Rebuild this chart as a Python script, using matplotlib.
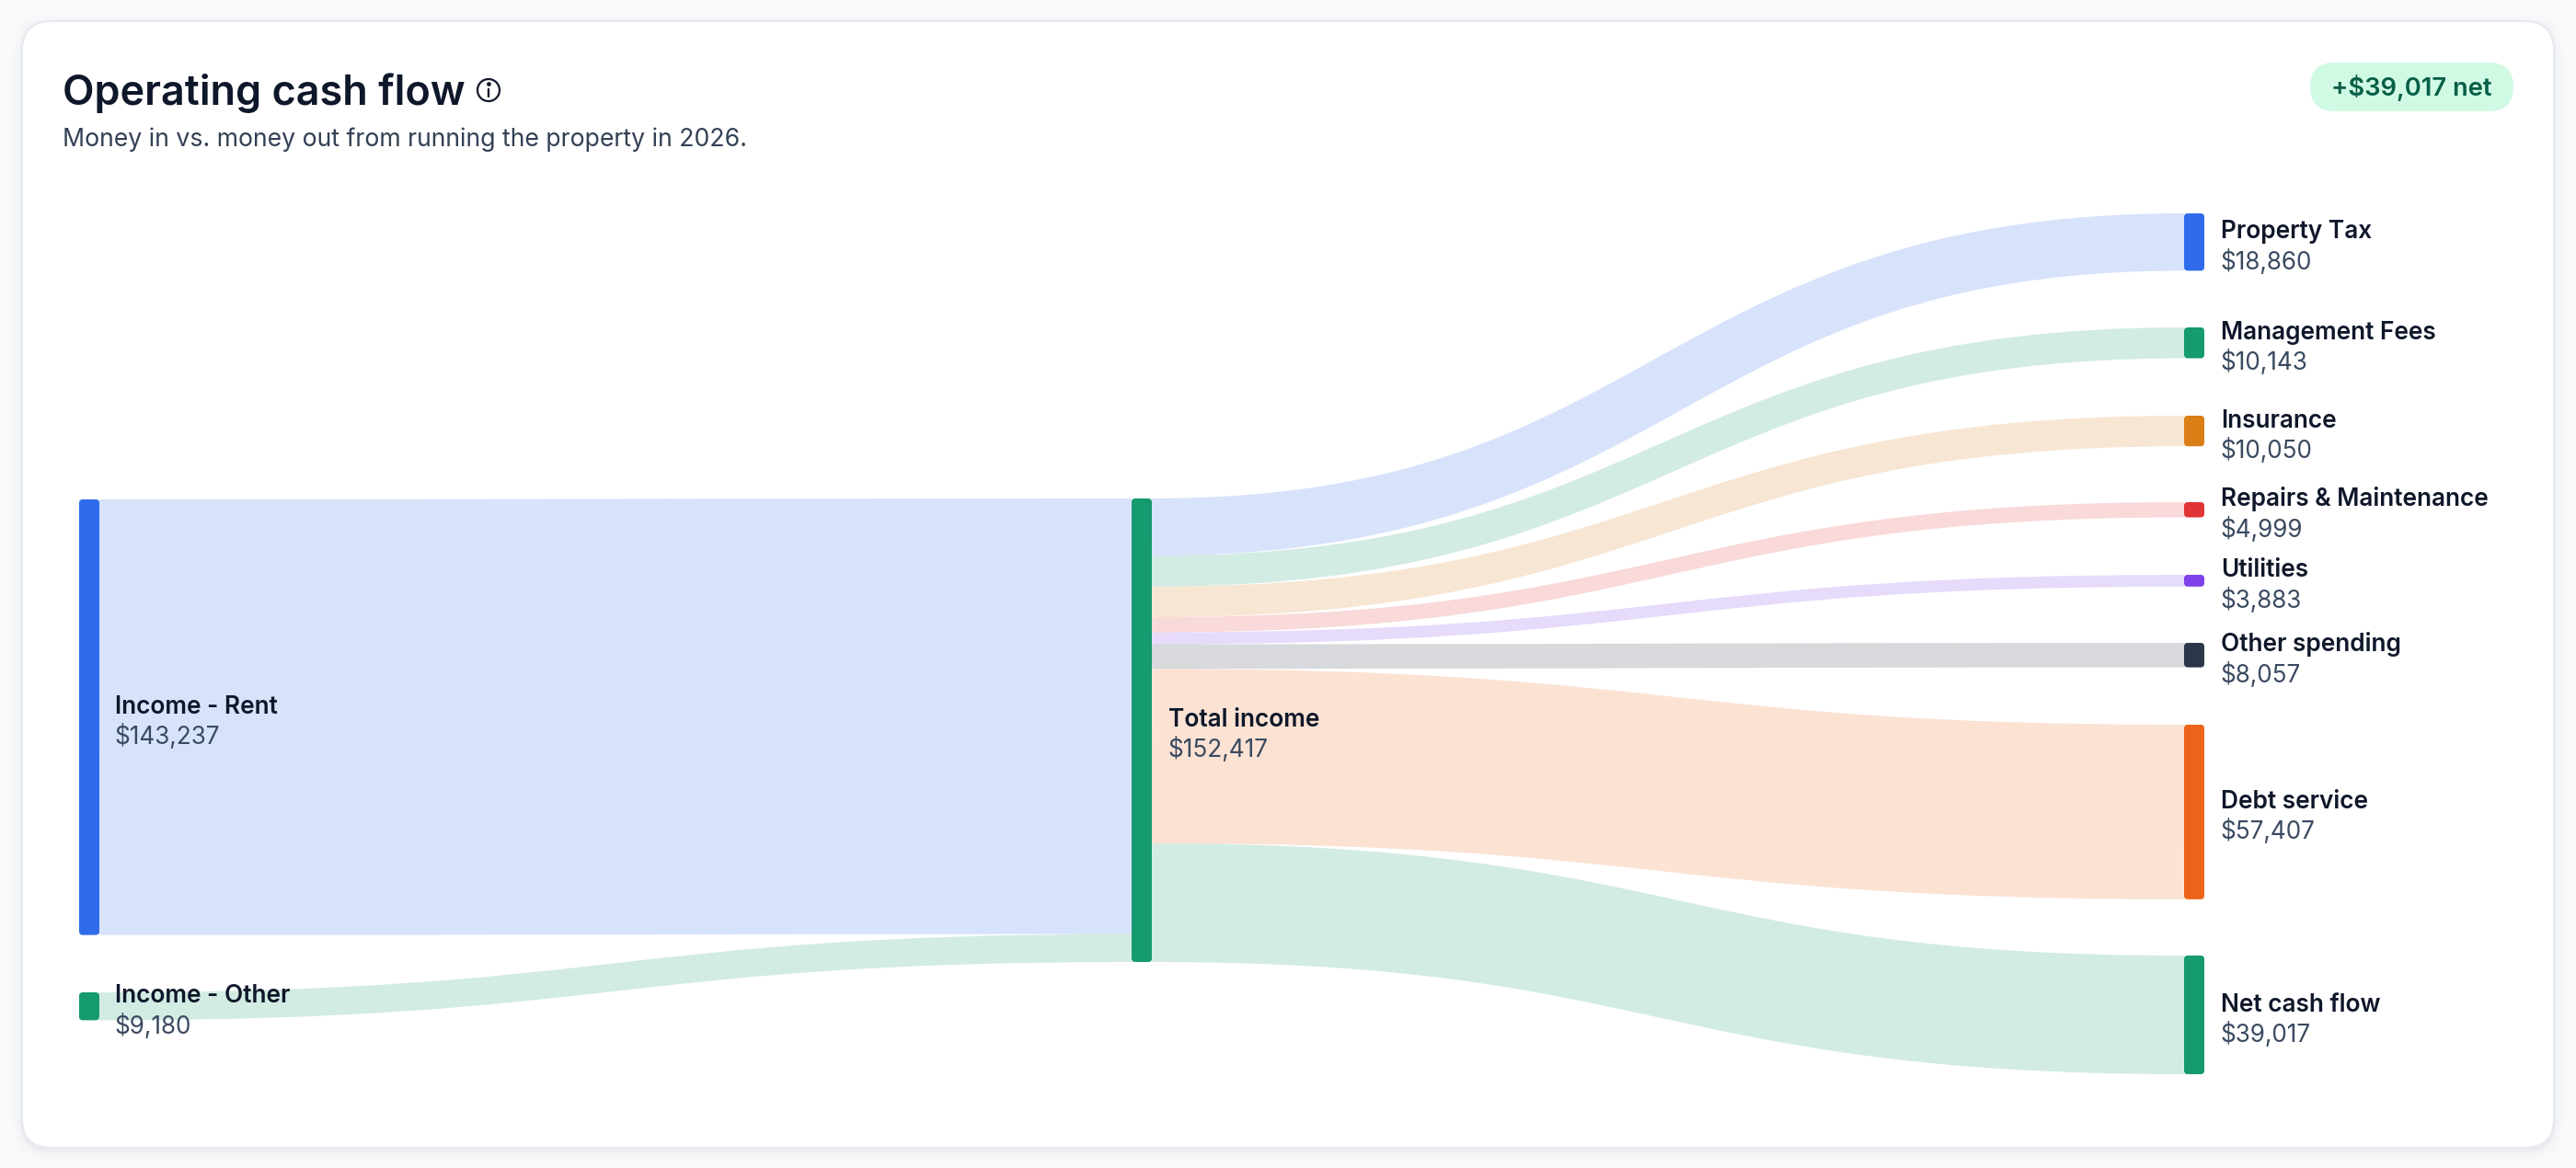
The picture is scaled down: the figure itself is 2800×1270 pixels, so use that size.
import matplotlib
matplotlib.use('Agg')
import matplotlib.pyplot as plt
from matplotlib.patches import FancyBboxPatch, PathPatch, Circle
from matplotlib.path import Path
from matplotlib.colors import to_rgba

plt.rcParams['font.family'] = ['Inter', 'DejaVu Sans']

DPI = 100
W, H = 2800, 1270

# data
source_names = ['Income - Rent', 'Income - Other']
source_values = [143237, 9180]
source_colors = ['#2F6BEB', '#169A6F']

total_name = 'Total income'
total_value = 152417
total_color = '#169A6F'

target_names = ['Property Tax', 'Management Fees', 'Insurance', 'Repairs & Maintenance',
                'Utilities', 'Other spending', 'Debt service', 'Net cash flow']
target_values = [18860, 10143, 10050, 4999, 3883, 8057, 57407, 39017]
target_colors = ['#2F6BEB', '#169A6F', '#D97F16', '#E03535', '#7F42EA', '#2B3748', '#EA6519', '#169A6F']
net_value = 39017

# layout, in pixels
source_tops = [543, 1079]
total_top = 542
target_tops = [232, 356, 452, 546, 625, 699, 788, 1039]
X_SOURCE, X_TOTAL, X_TARGET = 86, 1230, 2374
NODE_W = 22
PX_PER_DOLLAR = 504 / total_value
LINK_ALPHA = 0.19

INK = '#0F172A'
MUTED = '#3A4A60'

fig = plt.figure(figsize=(W / DPI, H / DPI), dpi=DPI, facecolor='#F8F9FB')
ax = fig.add_axes([0, 0, 1, 1])
ax.set_xlim(0, W)
ax.set_ylim(H, 0)
ax.axis('off')


def rounded(x, y, w, h, r, **kw):
    p = FancyBboxPatch((x, y), w, h, boxstyle=f'round,pad=0,rounding_size={r}', **kw)
    ax.add_patch(p)
    return p


def link(x0, y0, x1, y1, value, color):
    # stroked bezier, the band narrows a little where it is steep
    xm = (x0 + x1) / 2
    path = Path([(x0, y0), (xm, y0), (xm, y1), (x1, y1)],
                [Path.MOVETO, Path.CURVE4, Path.CURVE4, Path.CURVE4])
    lw = value * PX_PER_DOLLAR * 72 / DPI
    ax.add_patch(PathPatch(path, fill=False, edgecolor=to_rgba(color, LINK_ALPHA), lw=lw,
                           capstyle='butt', zorder=3))


def node(x, top, value, color):
    rounded(x, top, NODE_W, value * PX_PER_DOLLAR, 4, facecolor=color, edgecolor='none', zorder=4)


def label(x, top, value, name):
    cy = top + value * PX_PER_DOLLAR / 2
    ax.text(x, cy - 4, name, fontsize=18.9, fontweight=600, color=INK, va='baseline', zorder=5)
    ax.text(x - 1, cy + 29.5, f'${value:,}', fontsize=18.8, color=MUTED, va='baseline', zorder=5)


# card with a soft shadow
for grow, a in [(10, 0.006), (7, 0.008), (4, 0.012), (2, 0.02)]:
    rounded(24 - grow, 23 - grow + 3, 2752 + 2 * grow, 1225 + 2 * grow, 32 + grow,
            facecolor=(0.06, 0.09, 0.16, a), edgecolor='none', zorder=1)
rounded(24, 23, 2752, 1225, 32, facecolor='white', edgecolor='#E6E9EE', lw=1.5, zorder=2)

# header
ax.text(68, 114, 'Operating cash flow', fontsize=32.4, fontweight=600, color=INK, va='baseline', zorder=5)
ax.text(68, 159, 'Money in vs. money out from running the property in 2026.', fontsize=19.2,
        color='#334155', va='baseline', zorder=5)
ax.add_patch(Circle((531, 98), 12, fill=False, edgecolor=INK, lw=1.6, zorder=5))
ax.plot([531, 531], [97, 105], color=INK, lw=1.7, solid_capstyle='round', zorder=5)
ax.plot([531], [91], 'o', color=INK, ms=2.4, zorder=5)

# net pill
rounded(2511, 68, 221, 53, 26.5, facecolor='#D1FAE5', edgecolor='none', zorder=3)
ax.text(2621.5, 104, f'+${net_value:,} net', fontsize=19.7, fontweight=600, color='#065F46',
        ha='center', va='baseline', zorder=5)

# links into the total node
y_in = total_top
for top, value, color in zip(source_tops, source_values, source_colors):
    thick = value * PX_PER_DOLLAR
    link(X_SOURCE + NODE_W, top + thick / 2, X_TOTAL, y_in + thick / 2, value, color)
    y_in += thick

# links out of the total node
y_out = total_top
for top, value, color in zip(target_tops, target_values, target_colors):
    thick = value * PX_PER_DOLLAR
    link(X_TOTAL + NODE_W, y_out + thick / 2, X_TARGET, top + thick / 2, value, color)
    y_out += thick

# nodes and labels
for top, value, color, name in zip(source_tops, source_values, source_colors, source_names):
    node(X_SOURCE, top, value, color)
    label(X_SOURCE + NODE_W + 17, top, value, name)

node(X_TOTAL, total_top, total_value, total_color)
label(X_TOTAL + NODE_W + 18, total_top, total_value, total_name)

for top, value, color, name in zip(target_tops, target_values, target_colors, target_names):
    node(X_TARGET, top, value, color)
    label(X_TARGET + NODE_W + 18, top, value, name)

fig.savefig('out.png', dpi=DPI, facecolor=fig.get_facecolor())
